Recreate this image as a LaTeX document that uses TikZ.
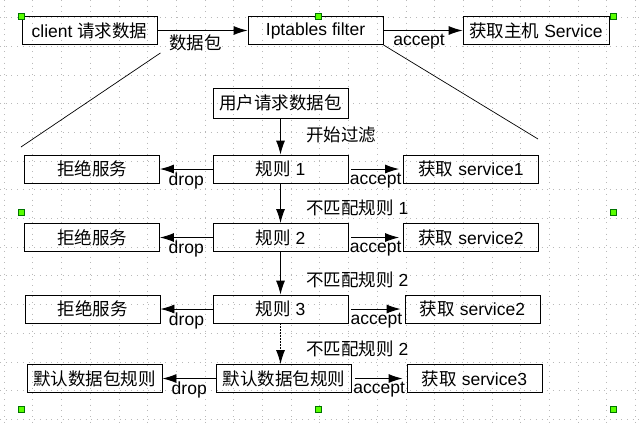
\documentclass[tikz,border=0pt]{standalone}
\usepackage{fontspec}
\setmainfont{Liberation Sans}
\newfontfamily\cjk{Noto Sans CJK SC}
\newcommand{\zh}[1]{{\cjk #1}}
\usetikzlibrary{arrows.meta}
\tikzset{
  box/.style={draw, line width=0.9pt, minimum width=135pt, minimum height=28pt, inner sep=1pt},
  tip/.style={-{Latex[length=14pt,width=9pt]}},
  handle/.style={draw=green!45!black, fill=green!65!yellow, line width=0.6pt, minimum size=6pt, inner sep=0pt},
  gridline/.style={gray!55, line width=0.6pt, dash pattern=on 0.7pt off 5pt},
}

\begin{document}
\begin{tikzpicture}[x=1pt, y=-1pt, line width=0.9pt, font=\fontsize{17.5}{20}\selectfont]
    \useasboundingbox[fill=white] (0,0) rectangle (642,426);
    % editor grid
    \foreach \gx in {0,...,22}
      \draw[gridline] ({4+28.7*\gx},0) -- ({4+28.7*\gx},426);
    \foreach \gy in {0,...,14}
      \draw[gridline] (0,{17.4+28.7*\gy}) -- (642,{17.4+28.7*\gy});

    \node[box] (client) at (89.5,30.5) {client \zh{请求数据}};
    \node[box] (filter) at (315.5,30.5) {Iptables filter};
    \node[box, minimum width=146pt] (host) at (536,30.5) {\zh{获取主机} Service};
    \coordinate (zl) at (21,147);
    \coordinate (zr) at (538,139);

    \node[box, minimum height=30pt] (user) at (280.5,103) {\zh{用户请求数据包}};

    \node[box] (rule1) at (280.5,169) {\zh{规则} 1};
    \node[box] (deny1) at (92,169) {\zh{拒绝服务}};
    \node[box] (get1) at (471,169) {\zh{获取} service1};

    \node[box] (rule2) at (280.5,237.5) {\zh{规则} 2};
    \node[box] (deny2) at (92,237.5) {\zh{拒绝服务}};
    \node[box] (get2) at (471,237.5) {\zh{获取} service2};

    \node[box] (rule3) at (280.5,309) {\zh{规则} 3};
    \node[box] (deny3) at (92.5,309) {\zh{拒绝服务}};
    \node[box] (get3) at (472.5,309) {\zh{获取} service2};

    \node[box] (dflt) at (284,378.5) {\zh{默认数据包规则}};
    \node[box] (dfltL) at (94.5,378.5) {\zh{默认数据包规则}};
    \node[box] (get4) at (474.5,378.5) {\zh{获取} service3};
    \coordinate (dfltTop) at (rule3.south |- dflt.north);

    \draw[tip]
    (client) edge node[below, pos=0.42] {\zh{数据包}} (filter)
    (filter) edge node[below, pos=0.45] {accept} (host)
    (user) edge node[right=22pt, pos=0.46] {\zh{开始过滤}} (rule1)
    (rule1) edge node[below] {drop} (deny1)
    (rule1) edge[shorten <=3pt, shorten >=4pt] node[below] {accept} (get1)
    (rule1) edge node[right=22pt, pos=0.62] {\zh{不匹配规则} 1} (rule2)
    (rule2) edge node[below] {drop} (deny2)
    (rule2) edge[shorten <=3pt, shorten >=4pt] node[below] {accept} (get2)
    (rule2) edge node[right=22pt, pos=0.65] {\zh{不匹配规则} 2} (rule3)
    (rule3) edge node[below] {drop} (deny3)
    (rule3) edge[shorten <=3pt, shorten >=4pt] node[below] {accept} (get3)
    (dflt) edge node[below] {drop} (dfltL)
    (dflt) edge[shorten <=3pt, shorten >=4pt] node[below] {accept} (get4);
    \draw[tip, dash pattern=on 1.2pt off 1.8pt]
    (rule3.south) -- node[right=22pt, pos=0.63] {\zh{不匹配规则} 2} (dfltTop);

    \draw[line width=0.7pt] ([shift={(3,8)}]client.south east) -- (zl);
    \draw[line width=0.7pt] (filter.south east) -- (zr);

    % selection handles
    \node[handle] (h1) at (21.5,16.5) {};
    \node[handle] (h2) at (318,16.5) {};
    \node[handle] (h3) at (613,16.5) {};
    \node[handle] (h4) at (21.5,212.5) {};
    \node[handle] (h5) at (613,212.5) {};
    \node[handle] (h6) at (21.5,409.5) {};
    \node[handle] (h7) at (318,409.5) {};
    \node[handle] (h8) at (613,409.5) {};
\end{tikzpicture}
\end{document}
